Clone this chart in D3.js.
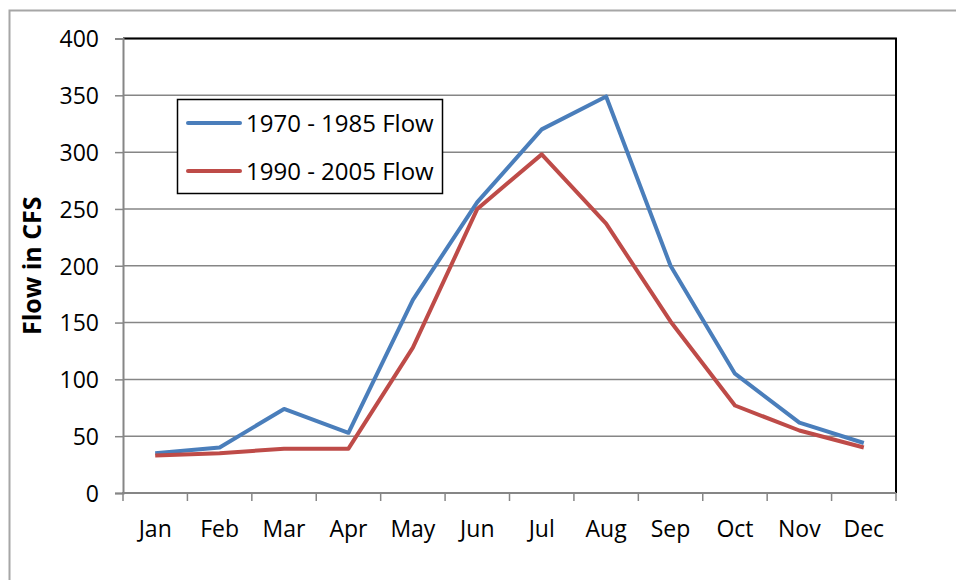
<!DOCTYPE html>
<html>
<head>
<meta charset="utf-8">
<script src="https://cdn.jsdelivr.net/npm/d3@7"></script>
<style>
  body { margin: 0; background: #fff; }
  svg text { font-family: "Open Sans", "Noto Sans", sans-serif; fill: #000; }
</style>
</head>
<body>
<div id="chart"></div>
<script>
  var months = ['Jan', 'Feb', 'Mar', 'Apr', 'May', 'Jun', 'Jul', 'Aug', 'Sep', 'Oct', 'Nov', 'Dec'];
  var flow1970 = [35, 40, 74, 53, 170, 256, 320, 349, 200, 105, 62, 44];
  var flow1990 = [33, 35, 39, 39, 128, 250, 298, 237, 151, 77, 55, 40];
  var yTicks = [0, 50, 100, 150, 200, 250, 300, 350, 400];
  var seriesNames = ['1970 - 1985 Flow', '1990 - 2005 Flow'];
  var seriesColors = ['#4A7EBB', '#BE4B48'];

  var width = 956, height = 580;
  var plot = {left: 123, top: 38.5, right: 896, bottom: 493};

  var svg = d3.select('#chart').append('svg')
    .attr('width', width)
    .attr('height', height);

  // Outer chart frame (cropped on right/bottom in the original)
  svg.append('path')
    .attr('d', 'M9.5,' + height + 'V10.5H' + width)
    .style('fill', 'none')
    .style('stroke', '#a6a6a6')
    .style('stroke-width', 2);

  var x = d3.scaleBand().domain(months).range([plot.left, plot.right]);
  var y = d3.scaleLinear().domain([0, 400]).range([plot.bottom, plot.top]);

  // Gridlines
  svg.append('g').selectAll('line')
    .data(yTicks.slice(1))
    .enter().append('line')
      .attr('x1', plot.left)
      .attr('x2', plot.right)
      .attr('y1', function(d) { return y(d); })
      .attr('y2', function(d) { return y(d); })
      .style('stroke', '#868686')
      .style('stroke-width', 1.5);

  // Plot area border top/right
  svg.append('path')
    .attr('d', 'M' + plot.left + ',' + plot.top + 'H' + plot.right + 'V' + plot.bottom)
    .style('fill', 'none')
    .style('stroke', '#000')
    .style('stroke-width', 2);

  // Y axis
  var yAxis = svg.append('g')
    .attr('transform', 'translate(' + plot.left + ',0)')
    .call(d3.axisLeft(y).tickValues(yTicks).tickSize(8).tickPadding(16));
  yAxis.select('.domain').style('stroke', '#868686').style('stroke-width', 2);
  yAxis.selectAll('.tick line').style('stroke', '#868686').style('stroke-width', 1.5);
  yAxis.selectAll('text').style('font-size', '23px').attr('dy', '0.36em');

  // X axis: ticks at category boundaries
  var xAxis = svg.append('g')
    .attr('transform', 'translate(0,' + plot.bottom + ')')
    .call(d3.axisBottom(x).tickSize(0).tickPadding(0));
  xAxis.select('.domain').remove();
  xAxis.selectAll('text')
    .style('font-size', '23px')
    .attr('dy', null)
    .attr('y', 44);

  var bounds = months.map(function(m) { return x(m); }).concat([plot.right]);
  svg.append('g').selectAll('line')
    .data(bounds)
    .enter().append('line')
      .attr('x1', function(d) { return d; })
      .attr('x2', function(d) { return d; })
      .attr('y1', plot.bottom)
      .attr('y2', plot.bottom + 8)
      .style('stroke', '#868686')
      .style('stroke-width', 1.5);
  svg.append('line')
    .attr('x1', plot.left - 1)
    .attr('x2', plot.right)
    .attr('y1', plot.bottom)
    .attr('y2', plot.bottom)
    .style('stroke', '#868686')
    .style('stroke-width', 2);

  // Y axis title
  svg.append('text')
    .attr('transform', 'translate(41,' + ((plot.top + plot.bottom) / 2) + ') rotate(-90)')
    .attr('text-anchor', 'middle')
    .style('font-size', '25px')
    .style('font-weight', 'bold')
    .text('Flow in CFS');

  // Lines
  var line = d3.line()
    .x(function(d, i) { return x(months[i]) + x.bandwidth() / 2; })
    .y(function(d) { return y(d); });

  [flow1970, flow1990].forEach(function(series, i) {
    svg.append('path')
      .datum(series)
      .attr('d', line)
      .style('fill', 'none')
      .style('stroke', seriesColors[i])
      .style('stroke-width', 4)
      .style('stroke-linejoin', 'round');
  });

  // Legend
  var legend = svg.append('g');
  legend.append('rect')
    .attr('x', 177.5)
    .attr('y', 99.5)
    .attr('width', 265)
    .attr('height', 94)
    .style('fill', '#fff')
    .style('stroke', '#000')
    .style('stroke-width', 1.5);

  seriesNames.forEach(function(name, i) {
    var ly = 123 + i * 48;
    legend.append('line')
      .attr('x1', 188)
      .attr('x2', 240)
      .attr('y1', ly)
      .attr('y2', ly)
      .style('stroke', seriesColors[i])
      .style('stroke-width', 4)
      .style('stroke-linecap', 'round');
    legend.append('text')
      .attr('x', 246)
      .attr('y', ly)
      .attr('dy', '0.36em')
      .style('font-size', '24px')
      .text(name);
  });
</script>
</body>
</html>
